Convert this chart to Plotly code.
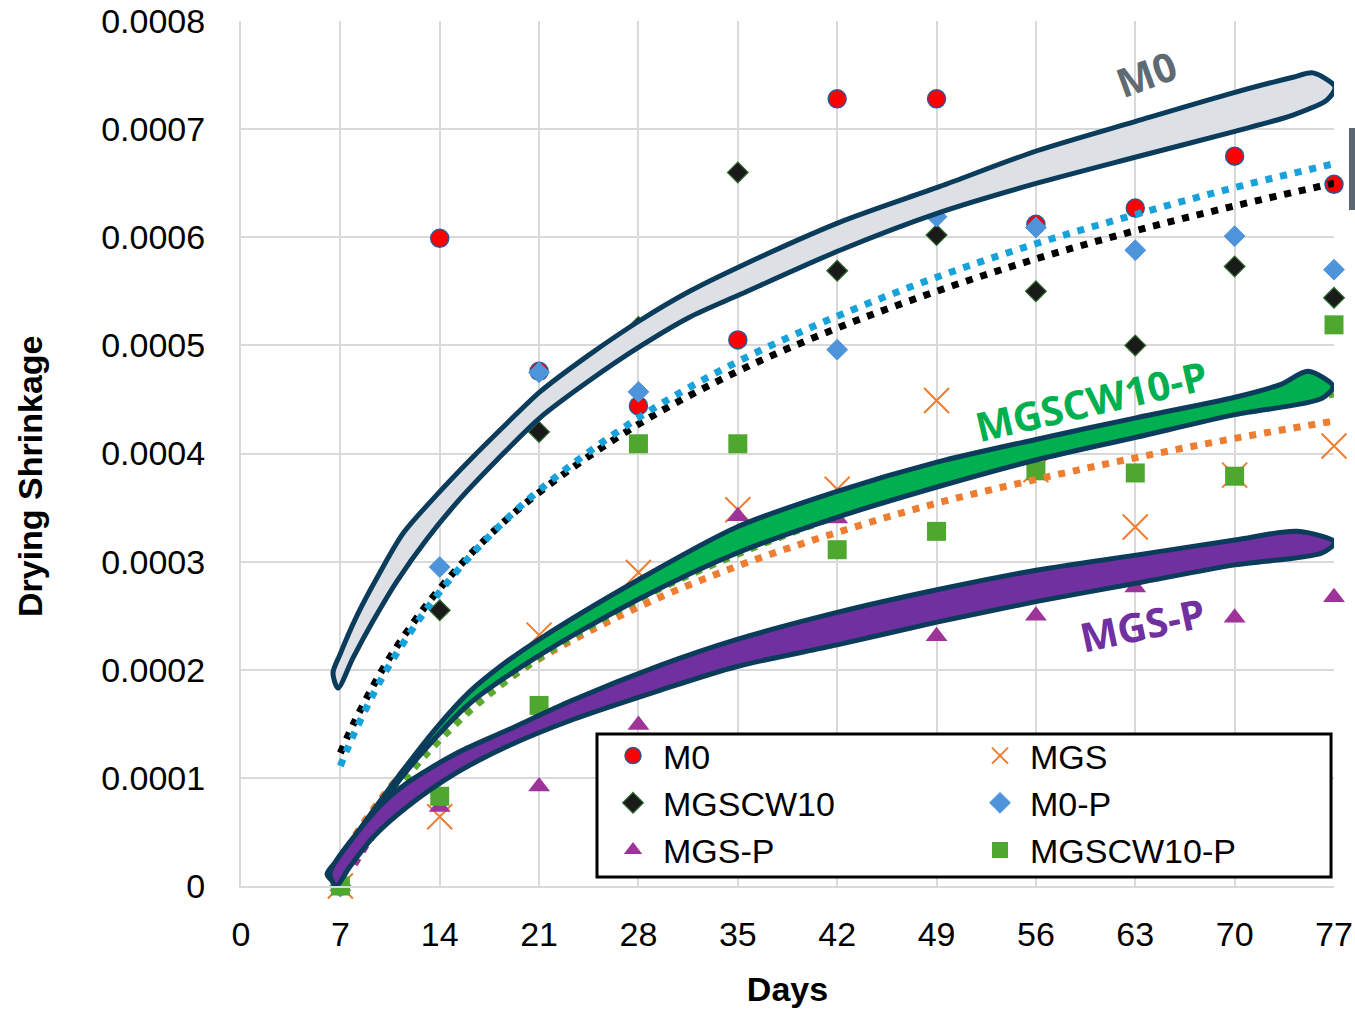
import plotly.graph_objects as go

# ---------------- data ----------------
days = [7, 14, 21, 28, 35, 42, 49, 56, 63, 70, 77]

m0 = [0, 0.000599, 0.000476, 0.000444, 0.000505, 0.000728, 0.000728, 0.000612, 0.000627, 0.000675, 0.000649]
mgs = [0, 0.000064, 0.000232, 0.000290, 0.000348, 0.000367, 0.000449, 0.000385, 0.000332, 0.000380, 0.000407]
mgscw10 = [0, 0.000255, 0.000420, 0.000517, 0.000660, 0.000569, 0.000602, 0.000550, 0.000500, 0.000573, 0.000544]
m0_p = [0, 0.000295, 0.000475, 0.000457, 0.000560, 0.000496, 0.000619, 0.000609, 0.000588, 0.000601, 0.000570]
mgs_p = [0, 0.000073, 0.000092, 0.000149, 0.000342, 0.000340, 0.000231, 0.000250, 0.000276, 0.000248, 0.000267]
mgscw10_p = [0, 0.000083, 0.000167, 0.000409, 0.000409, 0.000311, 0.000328, 0.000384, 0.000382, 0.000379, 0.000519]

# dotted trend lines
trend_x = [7, 8, 10, 12, 14, 17, 21, 28, 35, 42, 49, 56, 63, 70, 77]
trend_m0p = [0.000111, 0.000142, 0.000194, 0.000236, 0.000272, 0.000317, 0.000366, 0.000433, 0.000485,
             0.000527, 0.000563, 0.000594, 0.000621, 0.000646, 0.000668]
trend_mgscw10 = [0.000123, 0.000152, 0.000201, 0.000241, 0.000275, 0.000318, 0.000364, 0.000427, 0.000476,
                 0.000516, 0.000550, 0.000580, 0.000606, 0.000629, 0.000650]
trend_mgs = [0.000023, 0.000046, 0.000083, 0.000114, 0.000141, 0.000174, 0.000210, 0.000258, 0.000296,
             0.000327, 0.000354, 0.000376, 0.000396, 0.000414, 0.000430]
trend_mgscw10p = [0.000005, 0.000030, 0.000072, 0.000106, 0.000135, 0.000172, 0.000211, 0.000265, 0.000307,
                  0.000342, 0.000371, 0.000396, 0.000418, 0.000438, 0.000455]
trend_mgsp_x = [8, 10, 14, 21, 28, 35, 42, 49, 56, 63, 70, 76]
trend_mgsp = [0.000020, 0.000058, 0.000100, 0.000150, 0.000188, 0.000215, 0.000238, 0.000259, 0.000277,
              0.000293, 0.000302, 0.000309]

# hand-drawn highlight bands (outline traced clockwise, in data units)
band_m0_x = [6.48, 6.97, 8.17, 9.58, 11.41, 13.81, 16.13, 18.74, 21.06, 24.5, 28.11, 31.6, 35.15, 42.2,
             49.24, 56.08, 62.98, 70.02, 74.11, 75.52, 77.07, 76.51, 74.11, 70.02, 62.98, 56.08, 49.24,
             42.2, 35.15, 31.6, 28.11, 24.5, 21.06, 18.03, 15.43, 13.1, 10.99, 9.3, 7.89, 6.83, 6.48]
band_m0_y = [0.000197, 0.000214, 0.000250, 0.000285, 0.000326, 0.000362, 0.000394, 0.000428, 0.000457,
             0.000491, 0.000523, 0.000550, 0.000573, 0.000614, 0.000647, 0.000680, 0.000707, 0.000734,
             0.000748, 0.000752, 0.000739, 0.000727, 0.000713, 0.000698, 0.000674, 0.000650, 0.000623,
             0.000588, 0.000547, 0.000526, 0.000499, 0.000467, 0.000433, 0.000394, 0.000358, 0.000321,
             0.000282, 0.000245, 0.000211, 0.000183, 0.000197]

band_g_x = [6.06, 6.97, 9.09, 11.41, 13.81, 16.13, 18.46, 20.99, 27.97, 34.94, 41.99, 49.03, 56.0, 63.05,
            70.02, 73.27, 75.17, 76.93, 76.15, 70.02, 63.05, 56.0, 49.03, 41.99, 34.94, 27.97, 20.99,
            16.13, 12.61, 10.29, 7.68, 6.55, 6.06]
band_g_y = [0.0000111, 0.0000268, 0.0000657, 0.000107, 0.000147, 0.000180, 0.000205, 0.000228, 0.000283,
            0.000332, 0.000365, 0.000392, 0.000413, 0.000433, 0.000452, 0.000464, 0.000476, 0.000462,
            0.000451, 0.000436, 0.000415, 0.000394, 0.000369, 0.000341, 0.000308, 0.000265, 0.000213,
            0.000169, 0.000121, 0.0000823, 0.0000241, 0.0000046, 0.0000111]

band_p_x = [6.27, 8.17, 10.0, 11.69, 15.22, 18.74, 23.39, 29.52, 34.94, 41.99, 49.03, 56.0, 63.05, 70.02,
            74.39, 77.07, 76.15, 70.02, 63.05, 56.0, 49.03, 41.99, 34.94, 29.52, 23.39, 18.74, 15.22,
            11.69, 9.3, 7.68, 6.69, 6.27]
band_p_y = [0.000012, 0.000049, 0.0000768, 0.0000953, 0.000123, 0.000144, 0.000172, 0.000204, 0.000228,
            0.000253, 0.000274, 0.000292, 0.000306, 0.000320, 0.000328, 0.000318, 0.000308, 0.000297,
            0.000280, 0.000263, 0.000244, 0.000223, 0.000203, 0.000181, 0.000154, 0.000129, 0.000105,
            0.000073, 0.000045, 0.000018, 0.0, 0.000012]

x_ticks = [0, 7, 14, 21, 28, 35, 42, 49, 56, 63, 70, 77]
y_ticks = [0, 0.0001, 0.0002, 0.0003, 0.0004, 0.0005, 0.0006, 0.0007, 0.0008]
y_tick_labels = ["0", "0.0001", "0.0002", "0.0003", "0.0004", "0.0005", "0.0006", "0.0007", "0.0008"]

# ---------------- figure ----------------
fig = go.Figure()

series = [
    ("M0", m0, dict(symbol="circle", size=18, color="#ff0000", line=dict(color="#2f5597", width=1.5))),
    ("MGS", mgs, dict(symbol="x-thin", size=25, color="#ed7d31", line=dict(color="#ed7d31", width=2))),
    ("MGSCW10", mgscw10, dict(symbol="diamond", size=16, color="#1a1a1a", line=dict(color="#2e6b2e", width=1.2))),
    ("M0-P", m0_p, dict(symbol="diamond", size=16, color="#4d94db", line=dict(color="#4d94db", width=1))),
    ("MGS-P", mgs_p, dict(symbol="triangle-up", size=19, color="#9e3399", line=dict(width=0))),
    ("MGSCW10-P", mgscw10_p, dict(symbol="square", size=19, color="#4ea72e", line=dict(width=0))),
]
for name, vals, mk in series:
    fig.add_trace(go.Scatter(x=days, y=vals, mode="markers", name=name, marker=mk,
                             cliponaxis=False, showlegend=True))

dot = "7px,8px"
for tx, ty, col in [(trend_mgsp_x, trend_mgsp, "#9e3399"),
                    (trend_x, trend_mgs, "#ed7d31"),
                    (trend_x, trend_mgscw10p, "#5aab2e"),
                    (trend_x, trend_mgscw10, "#000000"),
                    (trend_x, trend_m0p, "#17a2dc")]:
    fig.add_trace(go.Scatter(x=tx, y=ty, mode="lines", showlegend=False, hoverinfo="skip",
                             line=dict(color=col, width=7, dash=dot, shape="spline")))

outline = "#0b3c5b"
for bx, by, fillc in [(band_m0_x, band_m0_y, "#dde1e5"),
                      (band_g_x, band_g_y, "#00b050"),
                      (band_p_x, band_p_y, "#7030a0")]:
    fig.add_trace(go.Scatter(x=bx, y=by, mode="lines", fill="toself", fillcolor=fillc,
                             showlegend=False, hoverinfo="skip",
                             line=dict(color=outline, width=5, shape="spline", smoothing=0.8)))

label_font = "Open Sans"
fig.add_annotation(x=63.76, y=0.000751, text="<b>M0</b>", showarrow=False, textangle=-20,
                   font=dict(family=label_font, size=40, color="#5f6a72"))
fig.add_annotation(x=59.9, y=0.000449, text="<b>MGSCW10-P</b>", showarrow=False, textangle=-13,
                   font=dict(family=label_font, size=40, color="#00b050"))
fig.add_annotation(x=63.5, y=0.000242, text="<b>MGS-P</b>", showarrow=False, textangle=-12,
                   font=dict(family=label_font, size=40, color="#7030a0"))
# y-axis title (sits a little below the plot's middle, as in the reference)
fig.add_annotation(xref="paper", yref="paper", x=-0.193, y=0.474, xanchor="center", yanchor="middle",
                   text="<b>Drying Shrinkage</b>", showarrow=False, textangle=-90,
                   font=dict(family="Liberation Sans", size=34, color="#000000"))

# legend frame and the cut-off mark at the right edge
fig.add_shape(type="rect", xref="paper", yref="paper", x0=0.3257, x1=0.9973, y0=0.0104, y1=0.1757,
              line=dict(color="#000000", width=3), fillcolor="#ffffff", layer="above")
fig.add_shape(type="rect", xref="paper", yref="paper", x0=1.0137, x1=1.03, y0=0.7815, y1=0.8763,
              line=dict(width=0), fillcolor="#5a6670", layer="above")

fig.update_layout(
    width=1355, height=1012,
    margin=dict(l=241, r=21, t=21, b=126, pad=0, autoexpand=False),
    paper_bgcolor="#ffffff", plot_bgcolor="#ffffff",
    font=dict(family="Liberation Sans", color="#000000"),
    showlegend=True,
    legend=dict(orientation="h", x=0.3312, y=0.1838, xanchor="left", yanchor="top",
                itemwidth=50, entrywidth=302, entrywidthmode="pixels",
                bgcolor="rgba(0,0,0,0)", borderwidth=0,
                font=dict(family="Liberation Sans", size=34, color="#000000"), traceorder="normal"),
    xaxis=dict(range=[0, 77], tickvals=x_ticks, ticktext=[str(v) for v in x_ticks],
               showgrid=True, gridcolor="#d9d9d9", gridwidth=2, zeroline=False, automargin=False,
               showline=True, linecolor="#d9d9d9", linewidth=2, ticks="",
               tickfont=dict(family="Liberation Sans", size=34, color="#000000"),
               ticklabelstandoff=17,
               title=dict(text="<b>Days</b>", standoff=25,
                          font=dict(family="Liberation Sans", size=34, color="#000000"))),
    yaxis=dict(range=[0, 0.0008], tickvals=y_ticks, ticktext=y_tick_labels,
               showgrid=True, gridcolor="#d9d9d9", gridwidth=2, zeroline=False, automargin=False,
               showline=True, linecolor="#d9d9d9", linewidth=2, ticks="",
               tickfont=dict(family="Liberation Sans", size=34, color="#000000"),
               ticklabelstandoff=27),
)

fig.write_html("out.html", config={"displayModeBar": False},
               post_script="document.body.style.margin='0';document.body.style.overflow='hidden';")
